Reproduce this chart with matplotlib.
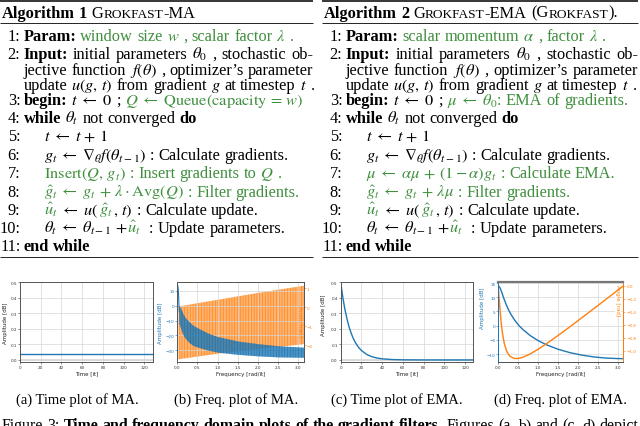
import matplotlib

matplotlib.use("Agg")

import matplotlib.pyplot as plt

plt.rcParams["font.family"] = ["Liberation Serif", "DejaVu Serif"]
plt.rcParams["mathtext.fontset"] = "stix"
plt.rcParams["hatch.linewidth"] = 0.45

BLUE = "#1f77b4"
ORANGE = "#ff7f0e"
GREEN = "#3f8f3f"
SANS = "DejaVu Sans"

# -----------------------------
# Data
# -----------------------------
# (a) MA impulse response
MA_T = [0, 127]
MA_H = [0.04, 0.04]

# (b) MA frequency response: main lobe + dense side-lobe band (dB), phase band (rad)
MA_LOBE_W = [0.0, 0.01, 0.02, 0.03, 0.04, 0.05]
MA_LOBE_DB = [14.2, 13.6, 11.7, 8.0, 0.8, -4.0]
MA_BAND_W = [0.05, 0.1, 0.15, 0.2, 0.3, 0.4, 0.5, 0.75, 1.0, 1.5, 2.0, 2.5, 3.1416]
MA_BAND_HI = [0.0, -2.5, -5.5, -8.0, -11.0, -13.5, -15.0, -18.5, -21.0, -24.0, -25.8, -27.2, -28.2]
MA_BAND_LO = [-12.0, -16.0, -19.5, -22.0, -25.0, -27.0, -28.0, -30.0, -31.5, -33.0, -34.0, -34.7, -35.0]
MA_PH_W = [0.03, 1.0, 2.0, 3.1416]
MA_PH_HI = [0.03, 0.38, 0.74, 1.12]
MA_PH_LO = [-2.74, -2.45, -2.2, -1.95]

# (c) EMA impulse response
EMA_T = [0, 2, 4, 6, 8, 10, 12, 14, 16, 18, 20, 25, 30, 35, 40, 50, 60, 80, 100, 127]
EMA_H = [0.5, 0.405, 0.328, 0.266, 0.215, 0.174, 0.141, 0.114, 0.093, 0.075,
         0.061, 0.036, 0.021, 0.0125, 0.0074, 0.0026, 0.0009, 0.0001, 0.0, 0.0]

# (d) EMA frequency response
EMA_W = [0.0, 0.025, 0.05, 0.075, 0.1, 0.15, 0.2, 0.25, 0.3, 0.4, 0.5, 0.6, 0.8,
         1.0, 1.2, 1.5, 1.8, 2.1, 2.4, 2.7, 3.0, 3.1416]
EMA_DB = [13.98, 13.74, 13.10, 12.20, 11.19, 9.18, 7.36, 5.79, 4.42, 2.16, 0.36, -1.13,
          -3.47, -5.25, -6.66, -8.28, -9.48, -10.36, -10.99, -11.38, -11.57, -11.60]
EMA_PH = [0.0, -0.221, -0.419, -0.582, -0.710, -0.885, -0.988, -1.049, -1.086, -1.117,
          -1.118, -1.102, -1.047, -0.975, -0.894, -0.764, -0.629, -0.490, -0.350,
          -0.209, -0.067, 0.0]

# -----------------------------
# Algorithm text
# -----------------------------
LA = r"\;\leftarrow\;"

TITLE_MA = [("Algorithm 1", "b"), (" G", "n"), ("ROKFAST", "s"), ("-MA", "n")]
TITLE_EMA = [("Algorithm 2", "b"), (" G", "n"), ("ROKFAST", "s"), ("-EMA (G", "n"),
             ("ROKFAST", "s"), (").", "n")]

COMMON_HEAD = [
    ("2:", 0, True, [("Input:", "b"), (" initial parameters $\\theta_0$ , stochastic ob-", "n")]),
    ("", 0, True, [("jective function $f(\\theta)$ , optimizer’s parameter", "n")]),
    ("", 0, False, [("update $u(g,\\, t)$ from gradient $g$ at timestep $t$ .", "n")]),
]
COMMON_LOOP = [
    ("4:", 0, False, [("while", "b"), (" $\\theta_t$ not converged", "n"), (" do", "b")]),
    ("5:", 1, False, [("$t" + LA + "t \\,+\\, 1$", "n")]),
    ("6:", 1, False, [("$g_t" + LA + "\\nabla_\\theta f(\\theta_{t-1})$ : Calculate gradients.", "n")]),
]
COMMON_TAIL = [
    ("9:", 1, False, [("$\\hat{u}_t$", "g"), ("$" + LA + "u($", "n"), ("$\\hat{g}_t$", "g"),
                      ("$,\\, t)$ : Calculate update.", "n")]),
    ("10:", 1, False, [("$\\theta_t" + LA + "\\theta_{t-1} \\,+\\,$", "n"), ("$\\hat{u}_t$", "g"),
                       ("  : Update parameters.", "n")]),
    ("11:", 0, False, [("end while", "b")]),
]

ALG_MA = (
    [("1:", 0, False, [("Param:", "b"), (" window size $w$ , scalar factor $\\lambda$ .", "g")])]
    + COMMON_HEAD
    + [("3:", 0, False, [("begin:", "b"), (" $t" + LA + "0$ ;", "n"),
                         (" $Q" + LA + "\\mathrm{Queue}(\\mathrm{capacity} \\,=\\, w)$", "g")])]
    + COMMON_LOOP
    + [("7:", 1, False, [("$\\mathrm{Insert}(Q,\\, g_t)$ : Insert gradients to $Q$ .", "g")]),
       ("8:", 1, False, [("$\\hat{g}_t" + LA + "g_t \\,+\\, \\lambda \\cdot \\mathrm{Avg}(Q)$ : Filter gradients.", "g")])]
    + COMMON_TAIL
)
ALG_EMA = (
    [("1:", 0, False, [("Param:", "b"), (" scalar momentum $\\alpha$ , factor $\\lambda$ .", "g")])]
    + COMMON_HEAD
    + [("3:", 0, False, [("begin:", "b"), (" $t" + LA + "0$ ;", "n"),
                         (" $\\mu" + LA + "\\theta_0$: EMA of gradients.", "g")])]
    + COMMON_LOOP
    + [("7:", 1, False, [("$\\mu" + LA + "\\alpha\\mu \\,+\\, (1 - \\alpha)g_t$ : Calculate EMA.", "g")]),
       ("8:", 1, False, [("$\\hat{g}_t" + LA + "g_t \\,+\\, \\lambda\\mu$ : Filter gradients.", "g")])]
    + COMMON_TAIL
)
LINE_Y = [37, 55, 71, 86, 101, 119, 137, 156, 174, 193, 211, 229, 247]

fig = plt.figure(figsize=(6.4, 4.27), dpi=100)
fig.patch.set_facecolor("white")
page = fig.add_axes([0, 0, 1, 1])
page.set_xlim(0, 640)
page.set_ylim(427, 0)
page.axis("off")
renderer = fig.canvas.get_renderer()

FS = 11.8
CAP_FS = 10.5
FIG_CAP_FS = 11.4
SC = 0.82  # small caps scale


def split_words(s):
    """Split on spaces that are outside $...$."""
    words, cur, in_math = [], "", False
    for ch in s:
        if ch == "$":
            in_math = not in_math
        if ch == " " and not in_math:
            words.append(cur)
            cur = ""
        else:
            cur += ch
    words.append(cur)
    return words


def draw_runs(x, y, parts, size=FS, right=None):
    sp = size * 0.25 * 100 / 72
    placed = []  # (text artist, number of gaps before it)
    gaps = 0
    for text, kind in parts:
        words = split_words(text)
        for i, w in enumerate(words):
            if w == "":
                x += sp
                gaps += 1
                continue
            if i > 0 and words[i - 1] != "":
                x += sp
                gaps += 1
            t = page.text(x, y, w, ha="left", va="baseline",
                          fontsize=size * (SC if "s" in kind else 1.0),
                          color=GREEN if "g" in kind else "black",
                          fontweight="bold" if "b" in kind else "normal")
            placed.append((t, gaps))
            x += t.get_window_extent(renderer).width
    if right is not None and gaps > 0:
        extra = (right - x) / gaps
        for t, g in placed:
            t.set_x(t.get_position()[0] + extra * g)
    return x


def draw_algorithm(x0, x1, title, lines):
    page.plot([x0, x1], [1.8, 1.8], color="black", lw=1.1, solid_capstyle="butt")
    page.plot([x0, x1], [23.5, 23.5], color="black", lw=0.6, solid_capstyle="butt")
    page.plot([x0, x1], [257.5, 257.5], color="black", lw=0.6, solid_capstyle="butt")
    draw_runs(x0 + 2, 17.5, title)
    for (num, indent, justify, parts), yc in zip(lines, LINE_Y):
        y = yc + 4
        if num:
            page.text(x0 + 20.5, y, num, ha="right", va="baseline", fontsize=FS)
        draw_runs(x0 + 23.5 + indent * 20, y, parts, right=x1 if justify else None)


draw_algorithm(0, 313, TITLE_MA, ALG_MA)
draw_algorithm(322, 638, TITLE_EMA, ALG_EMA)

# -----------------------------
# Plots
# -----------------------------
def axes_px(x0, x1, ytop=283.3, ybot=363.3):
    return fig.add_axes([x0 / 640, (427 - ybot) / 427, (x1 - x0) / 640, (ybot - ytop) / 427])


def style(ax):
    ax.set_facecolor("white")
    ax.grid(True, color="#d6d6d6", lw=0.5)
    ax.set_axisbelow(True)
    for s in ax.spines.values():
        s.set_color("#555555")
        s.set_linewidth(0.7)
    ax.tick_params(labelsize=3, length=1.2, width=0.4, pad=1, colors="#333333")
    for lab in ax.get_xticklabels() + ax.get_yticklabels():
        lab.set_family(SANS)


def label(ax, axis, text, color="#222222", coords=None):
    kw = dict(fontsize=4, family=SANS, color=color)
    if axis == "x":
        ax.set_xlabel(text, labelpad=1, **kw)
    else:
        ax.set_ylabel(text, labelpad=1.5, **kw)
        if coords is not None:
            ax.yaxis.set_label_coords(*coords)


# (a)
ax_a = axes_px(20, 152.7)
ax_a.axhline(0, color="#dddddd", lw=1.4, zorder=0)
ax_a.plot(MA_T, MA_H, color=BLUE, lw=1.0)
ax_a.set_xlim(0, 128)
ax_a.set_ylim(-0.015, 0.5)
ax_a.set_xticks([0, 20, 40, 60, 80, 100, 120])
ax_a.set_yticks([0.0, 0.1, 0.2, 0.3, 0.4, 0.5])
style(ax_a)
label(ax_a, "x", "Time [it]")
label(ax_a, "y", "Amplitude [dB]")

# (b)
ax_b = axes_px(177.3, 304)
ax_b2 = ax_b.twinx()
ax_b.set_zorder(ax_b2.get_zorder() + 1)
ax_b.patch.set_visible(False)
ax_b2.patch.set_facecolor("white")
ax_b2.fill_between(MA_PH_W, MA_PH_LO, MA_PH_HI, facecolor=(1.0, 0.5, 0.05, 0.6),
                   edgecolor=ORANGE, hatch="||||||", lw=0)
ax_b.plot(MA_LOBE_W, MA_LOBE_DB, color=BLUE, lw=0.8)
ax_b.fill_between(MA_BAND_W, MA_BAND_LO, MA_BAND_HI, facecolor=(0.12, 0.47, 0.71, 0.8),
                  edgecolor=BLUE, hatch="||||||", lw=0)
ax_b.set_xlim(0, 3.1416)
ax_b.set_ylim(-38, 15.6)
ax_b.set_xticks([0.0, 0.5, 1.0, 1.5, 2.0, 2.5, 3.0])
ax_b.set_yticks([-30, -20, -10, 0, 10])
ax_b2.set_ylim(-2.9, 1.3)
ax_b2.set_yticks([-2, -1, 0, 1])
style(ax_b)
style(ax_b2)
ax_b2.grid(False)
ax_b.tick_params(axis="y", colors=BLUE)
ax_b2.tick_params(axis="y", colors=ORANGE)
ax_b2.spines["right"].set_color(ORANGE)
ax_b2.spines["left"].set_color(BLUE)
label(ax_b, "x", "Frequency [rad/it]")
label(ax_b, "y", "Amplitude [dB]", BLUE)
ax_b2.set_ylabel("Angle [rad]", fontsize=4, family=SANS, color=ORANGE, rotation=270,
                 va="center", bbox=dict(facecolor="white", edgecolor="none", pad=0.5))
ax_b2.yaxis.set_label_coords(0.965, 0.52)

# (c)
ax_c = axes_px(340.7, 473.3)
ax_c.axhline(0, color="#dddddd", lw=1.4, zorder=0)
ax_c.plot(EMA_T, EMA_H, color=BLUE, lw=1.0)
ax_c.set_xlim(0, 128)
ax_c.set_ylim(-0.015, 0.5)
ax_c.set_xticks([0, 20, 40, 60, 80, 100, 120])
ax_c.set_yticks([0.0, 0.1, 0.2, 0.3, 0.4, 0.5])
style(ax_c)
label(ax_c, "x", "Time [it]")
label(ax_c, "y", "Amplitude [dB]", coords=(-0.11, 0.6))

# (d)
ax_d = axes_px(498.3, 623.3)
ax_d2 = ax_d.twinx()
ax_d.plot(EMA_W, EMA_DB, color=BLUE, lw=1.0)
ax_d2.plot(EMA_W, EMA_PH, color=ORANGE, lw=1.0)
ax_d.set_xlim(0, 3.1416)
ax_d.set_ylim(-12.88, 15.26)
ax_d.set_xticks([0.0, 0.5, 1.0, 1.5, 2.0, 2.5, 3.0])
ax_d.set_yticks([-10, -5, 0, 5, 10, 15])
ax_d2.set_ylim(-1.176, 0.056)
ax_d2.set_yticks([-1.0, -0.8, -0.6, -0.4, -0.2, 0.0])
style(ax_d)
style(ax_d2)
ax_d2.grid(False)
ax_d.tick_params(axis="y", colors=BLUE)
ax_d2.tick_params(axis="y", colors=ORANGE)
ax_d2.spines["right"].set_color(ORANGE)
ax_d2.spines["left"].set_color(BLUE)
ax_d2.spines["top"].set_color("#777777")
ax_d2.spines["top"].set_linewidth(1.6)
label(ax_d, "x", "Frequency [rad/it]")
label(ax_d, "y", "Amplitude [dB]", BLUE, coords=(-0.11, 0.69))
ax_d2.set_ylabel("Angle [rad]", fontsize=4, family=SANS, color=ORANGE, rotation=270,
                 va="center", bbox=dict(facecolor="white", edgecolor="none", pad=0.5))
ax_d2.yaxis.set_label_coords(0.955, 0.78)

# -----------------------------
# Captions
# -----------------------------
for xc, cap in [(77, "(a) Time plot of MA."), (236, "(b) Freq. plot of MA."),
                (397, "(c) Time plot of EMA."), (560, "(d) Freq. plot of EMA.")]:
    page.text(xc, 404, cap, ha="center", va="baseline", fontsize=CAP_FS)

draw_runs(2, 430, [("Figure 3:", "n"),
                   (" Time and frequency domain plots of the gradient filters.", "b"),
                   (" Figures (a, b) and (c, d) depict", "n")], size=FIG_CAP_FS, right=638)

plt.savefig("out.png", dpi=100)
